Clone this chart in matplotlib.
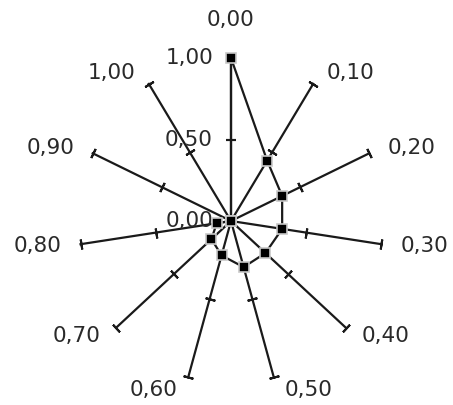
import numpy as np
import matplotlib
matplotlib.use("Agg")
import matplotlib.pyplot as plt

categories = ["0,00", "0,10", "0,20", "0,30", "0,40", "0,50",
              "0,60", "0,70", "0,80", "0,90", "1,00"]
values = [1.00, 0.44, 0.37, 0.34, 0.30, 0.295, 0.22, 0.17, 0.095, 0.00, 0.00]
radial_ticks = [0.0, 0.5, 1.0]
radial_labels = ["0,00", "0,50", "1,00"]

W, H = 453, 405
fig = plt.figure(figsize=(W / 100, H / 100), dpi=100)
cx, cy = 231, 405 - 221
rx, ry = 152, 163
ax = fig.add_axes([(cx - rx) / W, (cy - ry) / H, 2 * rx / W, 2 * ry / H],
                  projection="polar")
ax.set_aspect("auto")
ax.set_theta_zero_location("N")
ax.set_theta_direction(-1)
ax.set_ylim(0, 1)
ax.grid(False)
ax.spines["polar"].set_visible(False)
ax.set_xticks([])
ax.set_yticks([])
ax.patch.set_visible(False)

n = len(categories)
thetas = np.arange(n) * 2 * np.pi / n
col = "#1a1a1a"
tcol = "#2a2a2a"
fs = 15.5

for i, th in enumerate(thetas):
    ax.plot([th, th], [0, 1], color=col, lw=1.6, zorder=2, clip_on=False)
    ang = np.degrees(np.arctan2(ry * np.cos(th), rx * np.sin(th)))
    for rt in radial_ticks[1:]:
        ax.plot([th], [rt], marker=(2, 2, ang), ms=7.2, mew=1.5, color=col,
                zorder=2, clip_on=False, linestyle="none")
    s, c = np.sin(th), np.cos(th)
    if abs(s) < 1e-6:
        ax.annotate(categories[i], (th, 1), xytext=(0, 38), textcoords="offset pixels",
                    ha="center", va="center", fontsize=fs, color=tcol)
    else:
        dx = np.sign(s) * (7 + 12 * abs(s))
        ax.annotate(categories[i], (th, 1), xytext=(dx, 13 * c), textcoords="offset pixels",
                    ha="left" if s > 0 else "right", va="center", fontsize=fs,
                    color=tcol)

for rt, lab in zip(radial_ticks, radial_labels):
    ax.annotate(lab, (0, rt), xytext=(-18, 0), textcoords="offset pixels",
                ha="right", va="center", fontsize=fs, color=tcol, zorder=3)

th_closed = np.append(thetas, thetas[0])
v_closed = np.append(values, values[0])
ax.plot(th_closed, v_closed, color=col, lw=1.6, zorder=4, clip_on=False)
ax.plot(thetas, values, linestyle="none", marker="s", ms=6.5, mfc="black",
        mec="#c8c8c8", mew=1.2, zorder=5, clip_on=False)

fig.savefig("out.png", dpi=100)
